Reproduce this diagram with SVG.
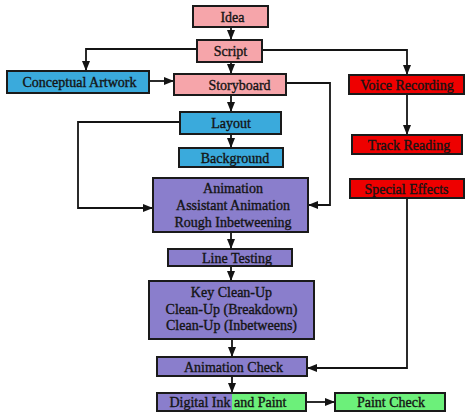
<svg xmlns="http://www.w3.org/2000/svg" width="474" height="414" viewBox="0 0 474 414">
<style>
.box{stroke:#1a1a1a;stroke-width:2}
.pink{fill:#F6A5AA}
.blue{fill:#3AAADC}
.purple{fill:#8A7ECC}
.red{fill:#EE0000}
.green{fill:#6CF07A}
text{font-family:"Liberation Serif","Times New Roman",serif;font-size:14px;fill:#141414;stroke:#141414;stroke-width:0.35;text-anchor:middle}
.conn path{fill:none;stroke:#141414;stroke-width:1.8}
</style>
<defs>
<marker id="arr" markerUnits="userSpaceOnUse" markerWidth="10" markerHeight="8" refX="10" refY="4" orient="auto">
<path d="M0,0 L10,4 L0,8 z" fill="#141414"/>
</marker>
</defs>
<rect width="474" height="414" fill="#ffffff"/>
<g class="conn">
<path d="M231,27 V40" marker-end="url(#arr)"/>
<path d="M197,49 H86 V71" marker-end="url(#arr)"/>
<path d="M262,50 H407 V75" marker-end="url(#arr)"/>
<path d="M231,62 V74" marker-end="url(#arr)"/>
<path d="M149,81 H174" marker-end="url(#arr)"/>
<path d="M231,95 V112" marker-end="url(#arr)"/>
<path d="M286,83 H330 V205 H308" marker-end="url(#arr)"/>
<path d="M231,134 V148" marker-end="url(#arr)"/>
<path d="M180,122 H78 V208 H153" marker-end="url(#arr)"/>
<path d="M231,232 V249" marker-end="url(#arr)"/>
<path d="M231,266 V281" marker-end="url(#arr)"/>
<path d="M232,339 V357" marker-end="url(#arr)"/>
<path d="M407,94 V135" marker-end="url(#arr)"/>
<path d="M407,198 V368 H307" marker-end="url(#arr)"/>
<path d="M232,376 V393" marker-end="url(#arr)"/>
<path d="M306,402 H335" marker-end="url(#arr)"/>
</g>
<g id="idea"><rect class="box pink" x="193" y="6" width="75" height="21"/><text x="232.5" y="21.5">Idea</text></g>
<g id="script"><rect class="box pink" x="197" y="40" width="65" height="22"/><text x="230.5" y="56">Script</text></g>
<g id="conceptual"><rect class="box blue" x="7" y="71" width="142" height="22"/><text x="79.5" y="87">Conceptual Artwork</text></g>
<g id="storyboard"><rect class="box pink" x="174" y="74" width="112" height="21"/><text x="239.5" y="89.5">Storyboard</text></g>
<g id="layout"><rect class="box blue" x="180" y="112" width="101" height="22"/><text x="231" y="128">Layout</text></g>
<g id="background"><rect class="box blue" x="179" y="148" width="104" height="19"/><text x="235" y="162.5">Background</text></g>
<g id="voice"><rect class="box red" x="349" y="75" width="115" height="19"/><text x="407" y="89.5">Voice Recording</text></g>
<g id="track"><rect class="box red" x="352" y="135" width="110" height="19"/><text x="409" y="149.5">Track Reading</text></g>
<g id="special"><rect class="box red" x="350" y="179" width="114" height="19"/><text x="406.5" y="193.5">Special Effects</text></g>
<g id="animation"><rect class="box purple" x="153" y="178" width="155" height="54"/>
<text x="233" y="193">Animation</text><text x="233" y="210">Assistant Animation</text><text x="233" y="227">Rough Inbetweening</text></g>
<g id="linetesting"><rect class="box purple" x="168" y="249" width="124" height="17"/><text x="237" y="262.5">Line Testing</text></g>
<g id="cleanup"><rect class="box purple" x="149" y="281" width="165" height="58"/>
<text x="231.5" y="297">Key Clean-Up</text><text x="231.5" y="313.5">Clean-Up (Breakdown)</text><text x="231.5" y="330">Clean-Up (Inbetweens)</text></g>
<g id="animcheck"><rect class="box purple" x="157" y="357" width="150" height="19"/><text x="233.5" y="371.5">Animation Check</text></g>
<g id="inkpaint"><rect class="purple" x="157" y="393" width="75" height="18"/><rect class="green" x="232" y="393" width="74" height="18"/><rect x="157" y="393" width="149" height="18" fill="none" stroke="#1a1a1a" stroke-width="2"/><text x="228" y="407">Digital Ink and Paint</text></g>
<g id="paintcheck"><rect class="box green" x="335" y="393" width="110" height="18"/><text x="391" y="407">Paint Check</text></g>
</svg>
